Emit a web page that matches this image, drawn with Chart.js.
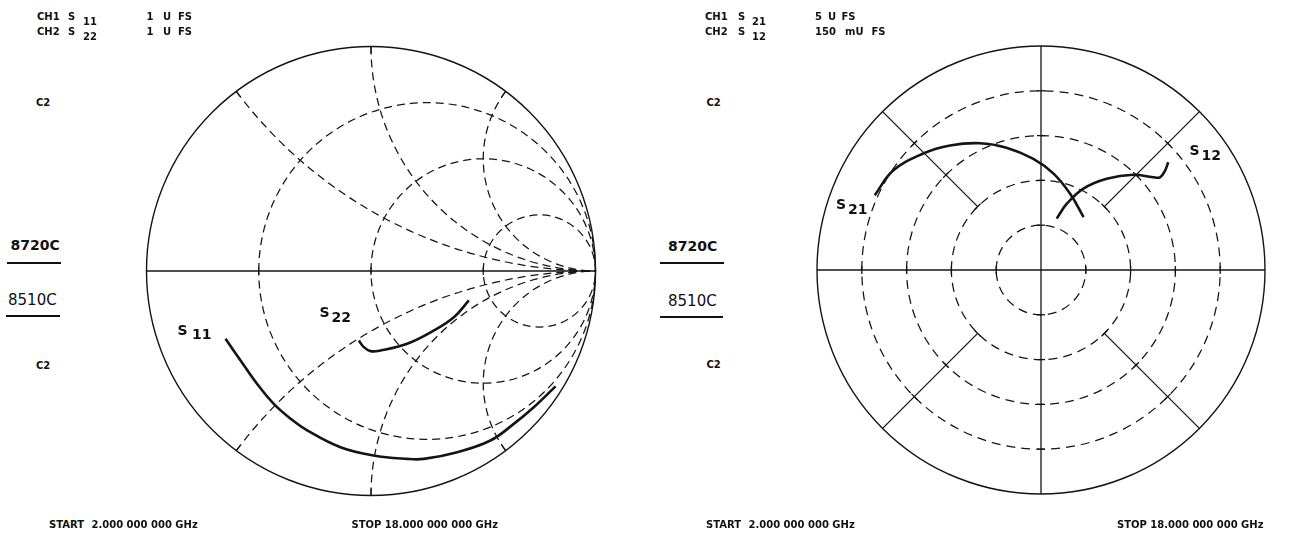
<!DOCTYPE html>
<html>
<head>
<meta charset="utf-8">
<script src="https://cdn.jsdelivr.net/npm/chart.js@4/dist/chart.umd.min.js"></script>
<style>
  html, body { margin: 0; padding: 0; background: #fff; }
  #page { position: relative; width: 1312px; height: 533px; overflow: hidden; background: #fff; }
  canvas { position: absolute; }
  .t { position: absolute; white-space: pre; color: #111; line-height: 1; font-family: "DejaVu Sans", sans-serif; }
  .b { font-weight: bold; }
  .rule { position: absolute; background: #111; }
</style>
</head>
<body>
<div id="page">
  <canvas id="smith" width="500" height="500"></canvas>
  <canvas id="polar" width="500" height="500"></canvas>
</div>
<script>
// Sweep 2 GHz .. 18 GHz, reflection coefficients (real / imaginary), 1 U full scale
const s11Re = [-0.648, -0.581, -0.508, -0.433, -0.358, -0.284, -0.136, 0.012, 0.161, 0.235, 0.384, 0.532, 0.636, 0.725, 0.822];
const s11Im = [-0.302, -0.399, -0.502, -0.592, -0.658, -0.710, -0.785, -0.822, -0.837, -0.837, -0.807, -0.755, -0.681, -0.607, -0.514];
const s22Re = [-0.054, -0.032, -0.002, 0.042, 0.161, 0.280, 0.369, 0.436];
const s22Im = [-0.310, -0.339, -0.357, -0.354, -0.324, -0.265, -0.206, -0.131];

// Transmission: S21 in U (5 U full scale), S12 in mU (150 mU full scale)
const s21Re = [-3.71, -3.30, -2.63, -2.03, -1.36, -0.77, -0.17, 0.28, 0.65, 0.95];
const s21Im = [1.67, 2.22, 2.60, 2.78, 2.83, 2.73, 2.48, 2.15, 1.70, 1.18];
const s12Re = [10.5, 17.3, 28.4, 44.0, 61.8, 75.2, 79.7, 83.1, 85.2];
const s12Im = [34.4, 44.4, 54.5, 61.1, 63.8, 62.1, 62.1, 66.6, 72.2];
const s21FullScale = 5;
const s12FullScale = 150;

// Graticule values
const smithR = [1 / 3, 1, 3];
const smithX = [0.5, 1, 2];
const polarRings = [0.2, 0.4, 0.6, 0.8];
const polarSpokes = [45, 135, 225, 315];

// Plot geometry (pixels)
const SMITH = { cx: 370.5, cy: 270.5, r: 224.5 };
const POLAR = { cx: 1041, cy: 269.5, r: 224 };
const CANVAS = 500;

const INK = '#141414';

function pts(re, im, fs) {
  return re.map((v, i) => ({ x: v / fs, y: im[i] / fs }));
}

function traceSet(data) {
  return {
    data, showLine: true, pointRadius: 0, borderColor: INK, borderWidth: 2.6,
    tension: 0.4, clip: false, fill: false
  };
}

function place(canvas, g) {
  canvas.style.left = (g.cx - CANVAS / 2) + 'px';
  canvas.style.top = (g.cy - CANVAS / 2) + 'px';
  canvas.style.width = CANVAS + 'px';
  canvas.style.height = CANVAS + 'px';
}

function tick(ctx, x, y, ang, len) {
  const dx = Math.cos(ang) * len, dy = Math.sin(ang) * len;
  ctx.beginPath(); ctx.moveTo(x - dx, y - dy); ctx.lineTo(x + dx, y + dy); ctx.stroke();
}

const smithGrid = {
  id: 'smithGrid',
  beforeDatasetsDraw(chart) {
    const ctx = chart.ctx, xs = chart.scales.x, ys = chart.scales.y;
    const px = v => xs.getPixelForValue(v), py = v => ys.getPixelForValue(v);
    const u = px(1) - px(0);
    ctx.save();
    ctx.strokeStyle = INK;
    ctx.setLineDash([]);
    ctx.lineWidth = 1.4;
    ctx.beginPath(); ctx.arc(px(0), py(0), u, 0, Math.PI * 2); ctx.stroke();
    ctx.beginPath(); ctx.moveTo(px(-1), py(0)); ctx.lineTo(px(1), py(0)); ctx.stroke();
    // ticks where resistance circles cross the real axis
    ctx.lineWidth = 1.2;
    smithR.forEach(r => tick(ctx, px((r - 1) / (r + 1)), py(0), Math.PI / 2, 4));
    // ticks where reactance arcs meet the rim
    smithX.forEach(x => [x, -x].forEach(xx => {
      const ex = (xx * xx - 1) / (xx * xx + 1), ey = 2 * xx / (xx * xx + 1);
      const a = Math.atan2(py(ey) - py(0), px(ex) - px(0));
      const X = px(ex), Y = py(ey);
      ctx.beginPath(); ctx.moveTo(X, Y); ctx.lineTo(X - Math.cos(a) * 7, Y - Math.sin(a) * 7); ctx.stroke();
    }));
    ctx.lineWidth = 1.25;
    ctx.setLineDash([8, 5]);
    smithR.forEach(r => {
      ctx.beginPath();
      ctx.arc(px(r / (1 + r)), py(0), u / (1 + r), Math.PI, 3 * Math.PI);
      ctx.stroke();
    });
    smithX.forEach(x => [x, -x].forEach(xx => {
      const ccx = px(1), ccy = py(1 / xx), rad = u / Math.abs(xx);
      const ex = (xx * xx - 1) / (xx * xx + 1), ey = 2 * xx / (xx * xx + 1);
      const a1 = Math.atan2(py(ey) - ccy, px(ex) - ccx);
      const a2 = Math.atan2(py(0) - ccy, px(1) - ccx);
      let d = a2 - a1;
      while (d > Math.PI) d -= 2 * Math.PI;
      while (d < -Math.PI) d += 2 * Math.PI;
      ctx.beginPath();
      ctx.arc(ccx, ccy, rad, a1, a1 + d, d < 0);
      ctx.stroke();
    }));
    ctx.restore();
  }
};

const polarGrid = {
  id: 'polarGrid',
  beforeDatasetsDraw(chart) {
    const ctx = chart.ctx, xs = chart.scales.x, ys = chart.scales.y;
    const px = v => xs.getPixelForValue(v), py = v => ys.getPixelForValue(v);
    const u = px(1) - px(0);
    const ox = px(0), oy = py(0);
    ctx.save();
    ctx.strokeStyle = INK;
    ctx.setLineDash([]);
    ctx.lineWidth = 1.4;
    ctx.beginPath(); ctx.arc(ox, oy, u, 0, Math.PI * 2); ctx.stroke();
    ctx.lineWidth = 1.3;
    ctx.beginPath(); ctx.moveTo(px(-1), oy); ctx.lineTo(px(1), oy); ctx.stroke();
    ctx.beginPath(); ctx.moveTo(ox, py(1)); ctx.lineTo(ox, py(-1)); ctx.stroke();
    polarSpokes.forEach(deg => {
      const a = deg * Math.PI / 180, c = Math.cos(a), s = Math.sin(a);
      ctx.beginPath();
      ctx.moveTo(px(0.4 * c), py(0.4 * s));
      ctx.lineTo(px(c), py(s));
      ctx.stroke();
      [0.4, 0.6, 0.8].forEach(r => tick(ctx, px(r * c), py(r * s), -a + Math.PI / 2, 4));
    });
    polarRings.forEach(r => {
      tick(ctx, px(r), oy, Math.PI / 2, 4);
      tick(ctx, px(-r), oy, Math.PI / 2, 4);
      tick(ctx, ox, py(r), 0, 4);
      tick(ctx, ox, py(-r), 0, 4);
    });
    ctx.lineWidth = 1.25;
    ctx.setLineDash([9, 6]);
    polarRings.forEach(r => {
      ctx.beginPath(); ctx.arc(ox, oy, u * r, Math.PI, 3 * Math.PI); ctx.stroke();
    });
    ctx.restore();
  }
};

function makeChart(id, g, datasets, grid) {
  const canvas = document.getElementById(id);
  place(canvas, g);
  const lim = (CANVAS / 2) / g.r;
  const axis = { type: 'linear', min: -lim, max: lim, display: false };
  return new Chart(canvas, {
    type: 'scatter',
    data: { datasets },
    options: {
      responsive: false, maintainAspectRatio: false, animation: false,
      layout: { padding: 0 },
      scales: { x: axis, y: { ...axis } },
      plugins: { legend: { display: false }, tooltip: { enabled: false } },
      events: []
    },
    plugins: [grid]
  });
}

makeChart('smith', SMITH, [
  traceSet(pts(s11Re, s11Im, 1)),
  traceSet(pts(s22Re, s22Im, 1))
], smithGrid);

makeChart('polar', POLAR, [
  traceSet(pts(s21Re, s21Im, s21FullScale)),
  traceSet(pts(s12Re, s12Im, s12FullScale))
], polarGrid);

// Annotation text: x = left edge, y = baseline
const page = document.getElementById('page');
function text(str, x, base, size, bold) {
  const d = document.createElement('div');
  d.className = 't' + (bold ? ' b' : '');
  d.textContent = str;
  d.style.fontSize = size + 'px';
  d.style.left = x + 'px';
  d.style.top = (base - 0.846 * size) + 'px';
  page.appendChild(d);
}
function rule(x1, x2, y, h) {
  const d = document.createElement('div');
  d.className = 'rule';
  d.style.left = x1 + 'px';
  d.style.width = (x2 - x1) + 'px';
  d.style.top = (y - h / 2) + 'px';
  d.style.height = h + 'px';
  page.appendChild(d);
}

// left display header
text('CH1', 37, 20, 10, true); text('S', 68, 20, 10, true); text('11', 83, 25, 10, true);
text('CH2', 37, 35, 10, true); text('S', 68, 35, 10, true); text('22', 83, 40, 10, true);
text('1', 146.5, 20, 10, true); text('U', 163, 20, 10, true); text('FS', 178, 20, 10, true);
text('1', 146.5, 35, 10, true); text('U', 163, 35, 10, true); text('FS', 178, 35, 10, true);
// right display header
text('CH1', 705, 20, 10, true); text('S', 738, 20, 10, true); text('21', 752, 25, 10, true);
text('CH2', 705, 35, 10, true); text('S', 738, 35, 10, true); text('12', 752, 40, 10, true);
text('5', 815, 20, 10, true); text('U', 828, 20, 10, true); text('FS', 841.5, 20, 10, true);
text('150', 815, 35, 10, true); text('mU', 845, 35, 10, true); text('FS', 871.5, 35, 10, true);

// side annotations
text('C2', 36, 106, 10, true); text('C2', 36, 369.5, 10, true);
text('C2', 706.5, 106, 10, true); text('C2', 706.5, 368.5, 10, true);
text('8720C', 10.5, 250, 14, true); rule(7, 61, 262.7, 2);
text('8510C', 8, 306, 15, false); rule(6, 59.5, 316, 1.4);
text('8720C', 668, 251, 14, true); rule(660, 723.5, 262.5, 2);
text('8510C', 668, 307, 15, false); rule(660, 723, 317, 1.4);

// sweep limits
text('START', 49, 528.5, 10, true); text('2.000 000 000 GHz', 91.5, 528.5, 10, true);
text('STOP 18.000 000 000 GHz', 351.5, 528.5, 10, true);
text('START', 706, 528.5, 10, true); text('2.000 000 000 GHz', 748.5, 528.5, 10, true);
text('STOP 18.000 000 000 GHz', 1117, 528.5, 10, true);

// trace labels
text('S', 177.5, 335, 14, true); text('11', 192, 338.5, 14, true);
text('S', 319.5, 317, 14, true); text('22', 331.5, 322, 14, true);
text('S', 836, 208.5, 14, true); text('21', 848, 213.5, 14, true);
text('S', 1189.5, 155, 14, true); text('12', 1201.5, 160, 14, true);
</script>
</body>
</html>
